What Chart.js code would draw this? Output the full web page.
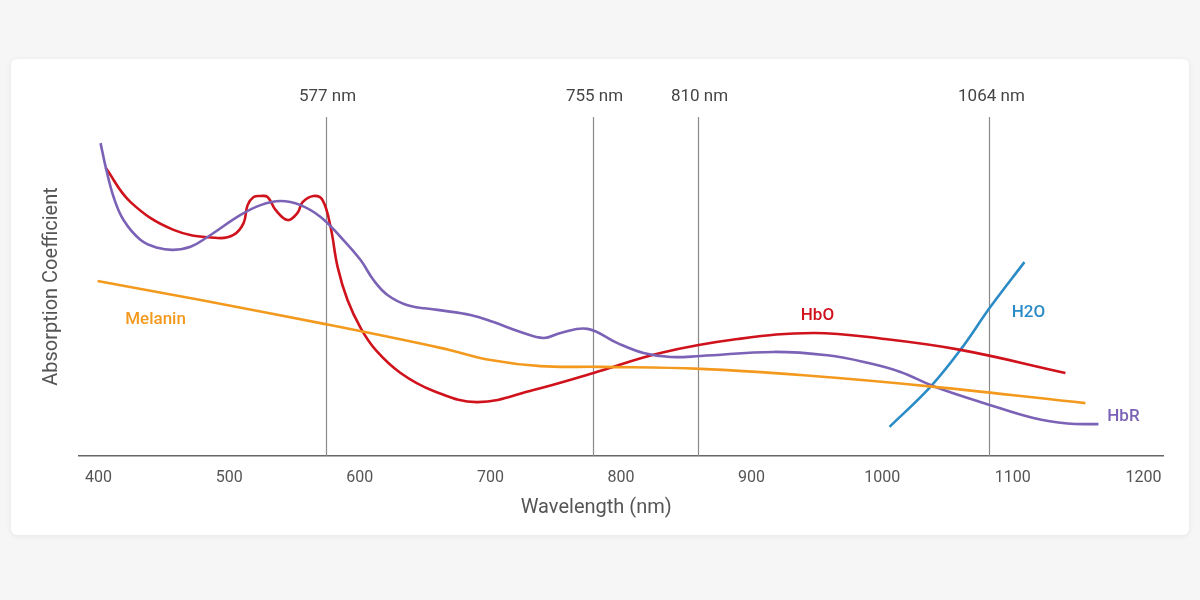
<!DOCTYPE html>
<html lang="en">
<head>
  <meta charset="UTF-8">
  <title>Absorption Coefficient</title>
  <script src="https://cdn.jsdelivr.net/npm/chart.js"></script>
  <style>
    body { margin: 0; background: #f6f6f6; font-family: Roboto, "Noto Sans", sans-serif; }
    .card { position: absolute; left: 11px; top: 59px; width: 1178px; height: 476px;
            background: #fff; border-radius: 6px; box-shadow: 0 1px 6px rgba(0,0,0,0.07); }
    #chart { position: absolute; left: 0; top: 0; }
  </style>
</head>
<body>
  <div class="card"></div>
  <canvas id="chart" width="1200" height="600"></canvas>
  <script>
    // wavelength (nm) / relative absorption
    const hbrNm  = [401.5, 405.4, 411.5, 419.1, 432.2, 445.2, 457.4, 470.4, 483.4, 508.7, 524.0, 539.3, 554.6, 570.0, 585.3, 600.6, 610.5, 621.2, 636.6, 659.5, 684.8, 702.4, 723.1, 740.7, 753.7, 774.4, 797.3, 817.2, 837.9, 860.9, 916.7, 958.0, 988.7, 1014.0, 1039.2, 1082.9, 1115.8, 1141.8, 1165.6];
    const hbrVal = [92.3, 85.3, 76.4, 69.6, 63.7, 61.4, 60.8, 61.7, 64.6, 71.1, 74.0, 75.2, 74.0, 70.5, 64.6, 57.8, 51.9, 47.5, 44.5, 43.1, 41.6, 39.5, 36.6, 34.8, 36.3, 37.5, 33.3, 30.4, 29.2, 29.5, 30.7, 29.7, 27.5, 24.8, 20.6, 15.0, 11.2, 9.6, 9.4];

    const hboNm  = [405.4, 424.5, 457.4, 491.1, 503.3, 511.0, 514.1, 518.7, 524.0, 529.4, 535.5, 544.7, 552.3, 556.2, 564.6, 571.5, 577.6, 583.0, 590.6, 600.6, 612.1, 631.2, 656.5, 690.1, 733.0, 778.9, 830.2, 889.2, 947.4, 1000.0, 1060.0, 1140.3];
    const hboVal = [85.0, 74.9, 66.7, 64.3, 65.2, 68.7, 74.0, 76.4, 76.7, 76.4, 72.6, 69.6, 71.7, 74.9, 76.7, 75.5, 67.6, 55.8, 46.0, 37.8, 31.3, 24.5, 19.2, 15.9, 19.5, 24.5, 30.4, 34.5, 36.3, 34.6, 31.3, 24.5];

    const melNm  = [399.2, 478.1, 573.8, 661.8, 700.1, 738.4, 784.3, 860.9, 940.0, 1040.0, 1155.6];
    const melVal = [51.6, 46.0, 38.9, 31.9, 28.3, 26.5, 26.3, 25.7, 23.8, 20.4, 15.6];

    const h2oNm  = [1005.6, 1036.9, 1059.9, 1082.9, 1108.9];
    const h2oVal = [8.6, 20.4, 31.3, 44.0, 57.2];

    const xTicks = [400, 500, 600, 700, 800, 900, 1000, 1100, 1200];

    // laser lines: where they sit on the axis, and what they are called
    const markerNm     = [573.8, 778.2, 858.6, 1082.1];
    const markerLabels = ['577 nm', '755 nm', '810 nm', '1064 nm'];

    // series names placed next to the curves
    const seriesNames = ['Melanin', 'HbO', 'H2O', 'HbR'];
    const seriesTagNm = [443.6, 950.4, 1112.0, 1184.7];
    const seriesTagY  = [40.1, 41.3, 42.2, 11.5];

    const colors = {
      Melanin: '#f39a1e',
      HbO: '#cf121b',
      H2O: '#2a8bc6',
      HbR: '#7b62b6'
    };

    const toPts = (xs, ys) => xs.map((x, i) => ({ x: x, y: ys[i] }));

    const overlay = {
      id: 'overlay',
      beforeDatasetsDraw(chart) {
        const { ctx, chartArea, scales: { x } } = chart;
        ctx.save();
        ctx.strokeStyle = '#8a8a8a';
        ctx.lineWidth = 1.2;
        markerNm.forEach(nm => {
          const px = Math.round(x.getPixelForValue(nm)) + 0.5;
          ctx.beginPath();
          ctx.moveTo(px, chartArea.top);
          ctx.lineTo(px, chartArea.bottom);
          ctx.stroke();
        });
        ctx.fillStyle = '#454545';
        ctx.font = '17px Roboto';
        ctx.textAlign = 'center';
        ctx.textBaseline = 'middle';
        markerNm.forEach((nm, i) => {
          ctx.fillText(markerLabels[i], x.getPixelForValue(nm) + 2, chartArea.top - 20);
        });
        ctx.restore();
      },
      afterDatasetsDraw(chart) {
        const { ctx, scales: { x, y } } = chart;
        ctx.save();
        ctx.font = '500 17px Roboto';
        ctx.textAlign = 'center';
        ctx.textBaseline = 'middle';
        seriesNames.forEach((name, i) => {
          ctx.fillStyle = colors[name];
          ctx.fillText(name, x.getPixelForValue(seriesTagNm[i]), y.getPixelForValue(seriesTagY[i]));
        });
        ctx.fillStyle = '#555';
        ctx.font = '20px Roboto';
        ctx.fillText('Wavelength (nm)', x.getPixelForValue(781), chart.chartArea.bottom + 52);
        ctx.restore();
      }
    };

    const line = (label, pts) => ({
      label: label,
      data: pts,
      borderColor: colors[label],
      borderWidth: 2.6,
      pointRadius: 0,
      tension: 0.4,
      fill: false
    });

    new Chart(document.getElementById('chart'), {
      type: 'line',
      data: {
        datasets: [
          line('Melanin', toPts(melNm, melVal)),
          line('HbR', toPts(hbrNm, hbrVal)),
          line('HbO', toPts(hboNm, hboVal)),
          line('H2O', toPts(h2oNm, h2oVal))
        ]
      },
      options: {
        responsive: false,
        animation: false,
        layout: { padding: { top: 117, right: 37, left: 0, bottom: 0 } },
        plugins: { legend: { display: false }, tooltip: { enabled: false } },
        scales: {
          x: {
            type: 'linear',
            min: 385,
            max: 1215,
            afterBuildTicks: s => { s.ticks = xTicks.map(v => ({ value: v })); },
            afterFit: s => { s.height = 144; },
            grid: { display: false, drawTicks: false },
            border: { display: true, color: '#666', width: 1.5 },
            ticks: {
              padding: 12,
              color: '#555',
              font: { family: 'Roboto', size: 16 },
              callback: v => String(v)
            }
          },
          y: {
            min: 0,
            max: 100,
            afterFit: s => { s.width = 79; },
            grid: { display: false, drawTicks: false },
            border: { display: false },
            ticks: { display: false },
            title: {
              display: true,
              text: 'Absorption Coefficient',
              color: '#555',
              font: { family: 'Roboto', size: 20 },
              padding: { top: 40, bottom: 0 }
            }
          }
        }
      },
      plugins: [overlay]
    });
  </script>
</body>
</html>
